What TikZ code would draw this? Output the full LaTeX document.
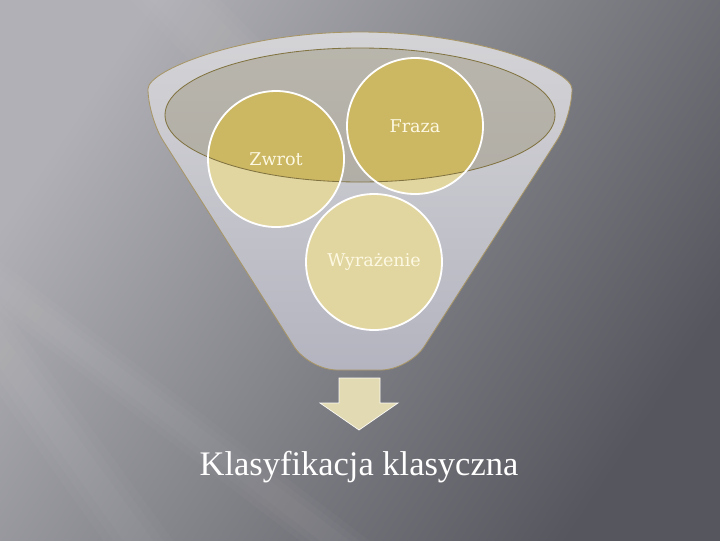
\documentclass[tikz,border=0pt]{standalone}
\usepackage{fontspec}
\setmainfont{Liberation Serif}
\newfontfamily\labelfont{DejaVu Serif}
\definecolor{bglight}{RGB}{176,176,182}
\definecolor{bgdark}{RGB}{86,86,94}
\definecolor{funneltop}{RGB}{212,212,215}
\definecolor{funnelbot}{RGB}{180,180,192}
\definecolor{funneledge}{RGB}{168,150,102}
\definecolor{ellfill}{RGB}{150,142,115}
\definecolor{elledge}{RGB}{130,116,66}
\definecolor{goldlight}{RGB}{226,214,160}
\definecolor{golddark}{RGB}{204,183,98}
\definecolor{labelcol}{RGB}{252,248,226}
\definecolor{arrowfill}{RGB}{226,218,178}
\begin{document}
\begin{tikzpicture}[x=0.025cm,y=-0.025cm,
		streak/.style={fill=white,fill opacity=0.025},
		rim/.style={line width=1.3pt,draw=white},
		lbl/.style={text=labelcol,font=\labelfont\fontsize{12.5}{15}\selectfont}]
		\useasboundingbox (0,0) rectangle (720,540);
		% tlo
		\shade[top color=bglight,bottom color=bgdark,shading angle=56] (0,0) rectangle (720,540);
		\begin{scope}
			\clip (0,0) rectangle (720,540);
			\foreach \w in {0,10,20}{
				\fill[streak] (-120-\w,200) -- (-95+\w,200) -- (160+\w,550) -- (130-\w,550) -- cycle;
				\fill[streak] (-60-\w,250) -- (-35+\w,250) -- (375+\w,560) -- (345-\w,560) -- cycle;
				\fill[streak] (150-\w,0) -- (200+\w,0) -- (300+\w,100) -- (260-\w,110) -- cycle;
			}
		\end{scope}

		% lejek
		\shade[top color=funneltop,bottom color=funnelbot,draw=funneledge,line width=0.6pt,rounded corners=20pt]
			(148,117) arc[start angle=180,end angle=360,x radius=212,y radius=85]
			-- (409,370) -- (309,370) -- cycle;
		\fill[ellfill,fill opacity=0.42] (360,115) ellipse[x radius=195,y radius=67];

		\coordinate (zw) at (276,159);
		\coordinate (fr) at (415,126);
		\coordinate (wy) at (374,262);

		\foreach \c in {zw,fr,wy}
			\fill[goldlight] (\c) circle[radius=68];
		\begin{scope}
			\clip (360,115) ellipse[x radius=195,y radius=67];
			\foreach \c in {zw,fr,wy}
				\fill[golddark] (\c) circle[radius=68];
		\end{scope}
		\draw[elledge,line width=0.6pt] (360,115) ellipse[x radius=195,y radius=67];
		\foreach \c in {zw,fr,wy}
			\draw[rim] (\c) circle[radius=68];

		\node[lbl] (zwrot) at (zw) {Zwrot};
		\node[lbl] (fraza) at (fr) {Fraza};
		\node[lbl] (wyrazenie) at (wy) {Wyrażenie};

		% strzalka
		\fill[arrowfill,draw=white!90!arrowfill,line width=0.5pt] (339,378) -- (380,378) -- (380,403) -- (398,403)
			-- (359,430) -- (320,403) -- (339,403) -- cycle;
		\node[text=white,font=\fontsize{24.5}{29}\selectfont,anchor=base] (klas) at (359,475) {Klasyfikacja klasyczna};
\end{tikzpicture}
\end{document}
